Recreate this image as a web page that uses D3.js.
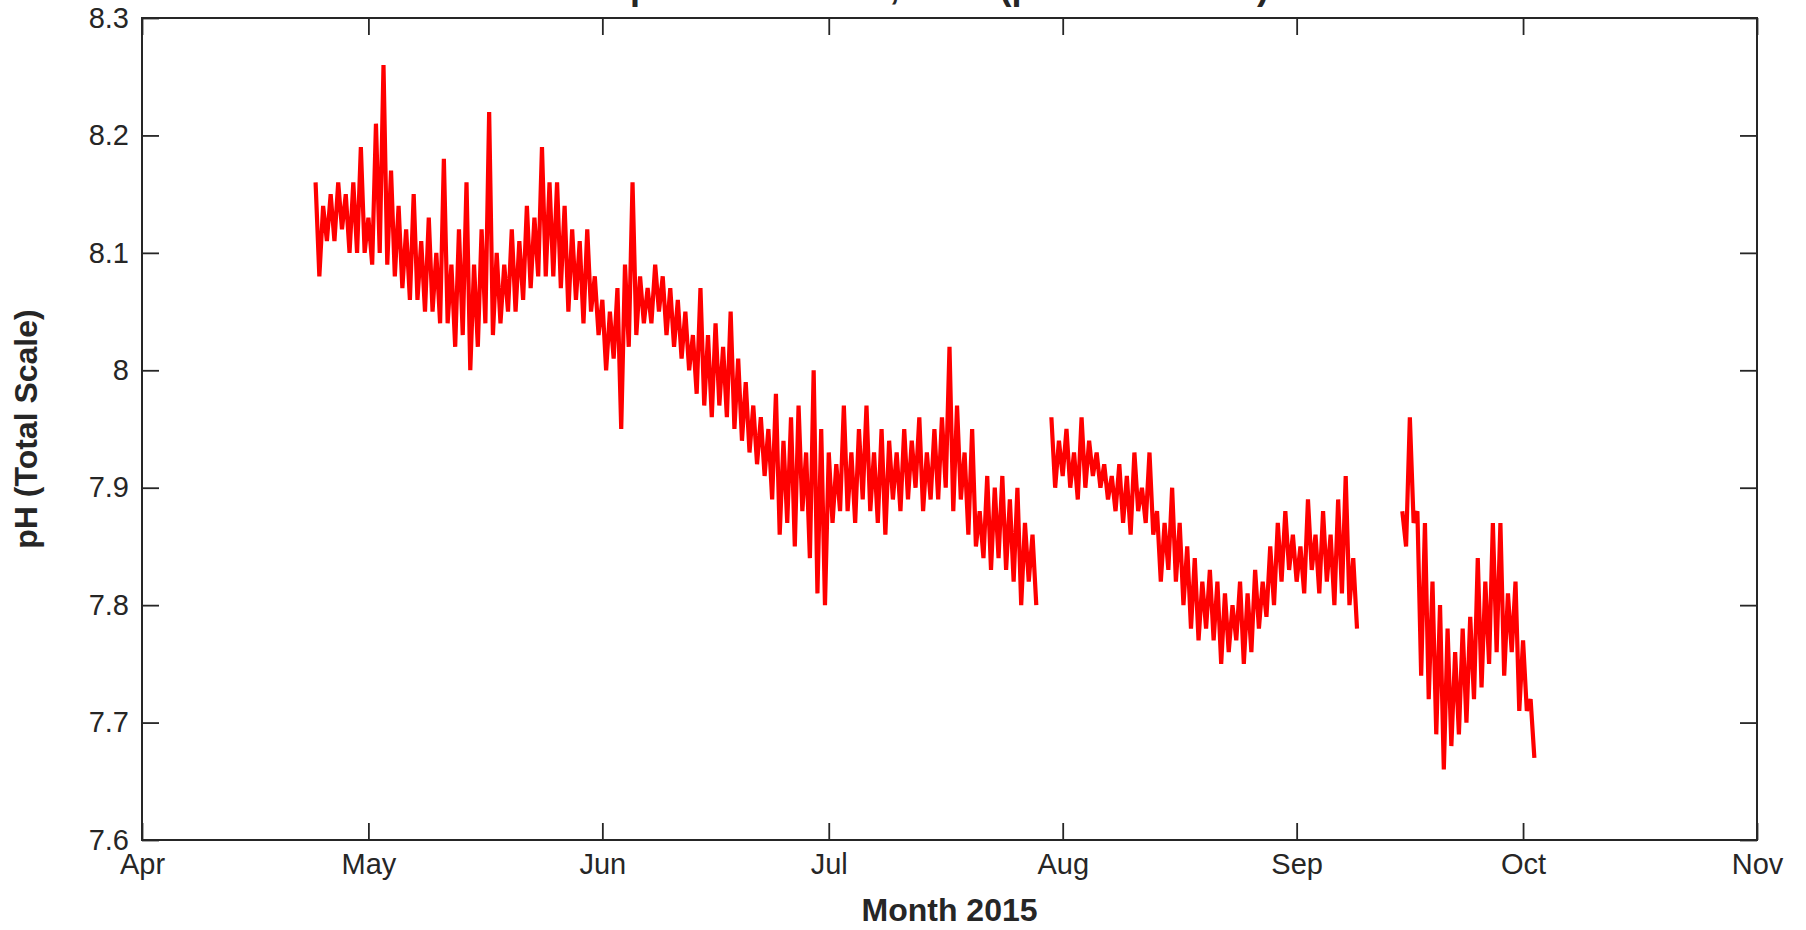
<!DOCTYPE html>
<html>
<head>
<meta charset="utf-8">
<script src="https://cdn.jsdelivr.net/npm/d3@7"></script>
<style>
  html, body { margin: 0; padding: 0; background: #fff; }
  svg { display: block; }
  text { font-family: "Liberation Sans", Arial, Helvetica, sans-serif; fill: #262626; }
</style>
</head>
<body>
<svg id="chart" width="1806" height="930"></svg>
<script>
// pH readings, two per day (daily high then daily low), one array per deployment
const seg1Start = "2015-04-24T00:00";
const seg1 = [
  8.16, 8.08, 8.14, 8.11, 8.15, 8.11, 8.16, 8.12, 8.15, 8.10, 8.16, 8.10, 8.19, 8.10,
  8.13, 8.09, 8.21, 8.10, 8.26, 8.09, 8.17, 8.08, 8.14, 8.07, 8.12, 8.06, 8.15, 8.06,
  8.11, 8.05, 8.13, 8.05, 8.10, 8.04, 8.18, 8.04, 8.09, 8.02, 8.12, 8.03, 8.16, 8.00,
  8.09, 8.02, 8.12, 8.04, 8.22, 8.03, 8.10, 8.04, 8.09, 8.05, 8.12, 8.05, 8.11, 8.06,
  8.14, 8.07, 8.13, 8.08, 8.19, 8.08, 8.16, 8.08, 8.16, 8.07, 8.14, 8.05, 8.12, 8.06,
  8.11, 8.04, 8.12, 8.05, 8.08, 8.03,
  8.06, 8.00, 8.05, 8.01, 8.07, 7.95, 8.09, 8.02, 8.16, 8.03, 8.08, 8.04, 8.07, 8.04,
  8.09, 8.05, 8.08, 8.03, 8.07, 8.02, 8.06, 8.01, 8.05, 8.00, 8.03, 7.98, 8.07, 7.97,
  8.03, 7.96, 8.04, 7.97, 8.02, 7.96, 8.05, 7.95, 8.01, 7.94, 7.99, 7.93, 7.97, 7.92,
  7.96, 7.91, 7.95, 7.89, 7.98, 7.86, 7.94, 7.87, 7.96, 7.85, 7.97, 7.88, 7.93, 7.84,
  8.00, 7.81, 7.95, 7.80,
  7.93, 7.87, 7.92, 7.88, 7.97, 7.88, 7.93, 7.87, 7.95, 7.89, 7.97, 7.88, 7.93, 7.87,
  7.95, 7.86, 7.94, 7.89, 7.93, 7.88, 7.95, 7.89, 7.94, 7.90, 7.96, 7.88, 7.93, 7.89,
  7.95, 7.89, 7.96, 7.90, 8.02, 7.88, 7.97, 7.89, 7.93, 7.86, 7.95, 7.85, 7.88, 7.84,
  7.91, 7.83, 7.90, 7.84, 7.91, 7.83, 7.89, 7.82, 7.90, 7.80, 7.87, 7.82, 7.86, 7.80
];

const seg2Start = "2015-07-30T12:00";
const seg2 = [
  7.96, 7.90, 7.94, 7.91,
  7.95, 7.90, 7.93, 7.89, 7.96, 7.90, 7.94, 7.91, 7.93, 7.90, 7.92, 7.89, 7.91, 7.88,
  7.92, 7.87, 7.91, 7.86, 7.93, 7.88, 7.90, 7.87, 7.93, 7.86, 7.88, 7.82, 7.87, 7.83,
  7.90, 7.82, 7.87, 7.80, 7.85, 7.78, 7.84, 7.77, 7.82, 7.78, 7.83, 7.77, 7.82, 7.75,
  7.81, 7.76, 7.80, 7.77, 7.82, 7.75, 7.81, 7.76, 7.83, 7.78, 7.82, 7.79, 7.85, 7.80,
  7.87, 7.82, 7.88, 7.83, 7.86, 7.82,
  7.85, 7.81, 7.89, 7.83, 7.86, 7.81, 7.88, 7.82, 7.86, 7.80, 7.89, 7.81, 7.91, 7.80,
  7.84, 7.78
];

const seg3Start = "2015-09-15T00:00";
const seg3 = [
  7.88, 7.85, 7.96, 7.87, 7.88, 7.74, 7.87, 7.72, 7.82, 7.69, 7.80, 7.66, 7.78, 7.68,
  7.76, 7.69, 7.78, 7.70, 7.79, 7.72, 7.84, 7.73, 7.82, 7.75, 7.87, 7.76, 7.87, 7.74,
  7.81, 7.76, 7.82, 7.71, 7.77, 7.71, 7.72, 7.67
];

const monthTicks = ["2015-04-01", "2015-05-01", "2015-06-01", "2015-07-01",
                    "2015-08-01", "2015-09-01", "2015-10-01", "2015-11-01"];
const monthLabels = ["Apr", "May", "Jun", "Jul", "Aug", "Sep", "Oct", "Nov"];
const phTicks = [7.6, 7.7, 7.8, 7.9, 8.0, 8.1, 8.2, 8.3];

const titleText = "pH Time Series, 2015 (pH Total Scale)";
const xLabelText = "Month 2015";
const yLabelText = "pH (Total Scale)";

(function draw() {
  // ---- layout ----
  const plotLeft = 142, plotRight = 1757, plotTop = 18, plotBottom = 840;
  const tickLen = 17;
  const ink = "#262626";

  const parse = d3.isoParse;
  const x = d3.scaleTime()
    .domain([parse("2015-04-01T00:00"), parse("2015-11-01T00:00")])
    .range([plotLeft, plotRight]);
  const y = d3.scaleLinear().domain([7.6, 8.3]).range([plotBottom, plotTop]);

  const svg = d3.select("#chart");

  // readings every 12 hours from each deployment's start
  function toPoints(start, vals) {
    const t0 = parse(start).getTime();
    return vals.map((v, i) => ({ t: new Date(t0 + i * 12 * 3600 * 1000), v }));
  }
  const segments = [toPoints(seg1Start, seg1), toPoints(seg2Start, seg2), toPoints(seg3Start, seg3)];

  const line = d3.line().x(d => x(d.t)).y(d => y(d.v));

  svg.append("g")
    .selectAll("path")
    .data(segments)
    .join("path")
    .attr("d", line)
    .attr("fill", "none")
    .attr("stroke", "#ff0000")
    .attr("stroke-width", 4.2);

  // ---- axes: ticks pointing inward on all four sides ----
  const xTickDates = monthTicks.map(s => parse(s + "T00:00"));
  const fmtMonth = d => monthLabels[xTickDates.findIndex(t => t.getTime() === d.getTime())];
  const fmtPh = d => String(+d.toFixed(1));

  function styleAxis(g) {
    g.selectAll("path.domain").remove();
    g.selectAll(".tick line").attr("stroke", ink).attr("stroke-width", 1.8);
    g.selectAll(".tick text").attr("fill", ink).style("font-size", "29px")
      .style("font-family", "'Liberation Sans', Arial, Helvetica, sans-serif");
  }

  svg.append("g")
    .attr("transform", `translate(0,${plotBottom})`)
    .call(d3.axisBottom(x).tickValues(xTickDates).tickFormat(fmtMonth)
          .tickSizeInner(-tickLen).tickSizeOuter(0).tickPadding(13))
    .call(styleAxis);

  svg.append("g")
    .attr("transform", `translate(0,${plotTop})`)
    .call(d3.axisTop(x).tickValues(xTickDates).tickFormat("")
          .tickSizeInner(-tickLen).tickSizeOuter(0))
    .call(styleAxis);

  svg.append("g")
    .attr("transform", `translate(${plotLeft},0)`)
    .call(d3.axisLeft(y).tickValues(phTicks).tickFormat(fmtPh)
          .tickSizeInner(-tickLen).tickSizeOuter(0).tickPadding(13))
    .call(styleAxis);

  svg.append("g")
    .attr("transform", `translate(${plotRight},0)`)
    .call(d3.axisRight(y).tickValues(phTicks).tickFormat("")
          .tickSizeInner(-tickLen).tickSizeOuter(0))
    .call(styleAxis);

  // frame
  svg.append("rect")
    .attr("x", plotLeft).attr("y", plotTop)
    .attr("width", plotRight - plotLeft).attr("height", plotBottom - plotTop)
    .attr("fill", "none").attr("stroke", ink).attr("stroke-width", 2);

  // ---- labels ----
  const cx = (plotLeft + plotRight) / 2;

  // title sits above the canvas edge, only its descenders reach into view
  svg.append("text")
    .attr("x", cx).attr("y", -1)
    .attr("text-anchor", "middle")
    .style("font-size", "36px").style("font-weight", "bold")
    .text(titleText);

  svg.append("text")
    .attr("x", cx).attr("y", 921)
    .attr("text-anchor", "middle")
    .style("font-size", "32px").style("font-weight", "bold")
    .text(xLabelText);

  svg.append("text")
    .attr("transform", `translate(37,${(plotTop + plotBottom) / 2}) rotate(-90)`)
    .attr("text-anchor", "middle")
    .style("font-size", "32px").style("font-weight", "bold")
    .text(yLabelText);
})();
</script>
</body>
</html>
